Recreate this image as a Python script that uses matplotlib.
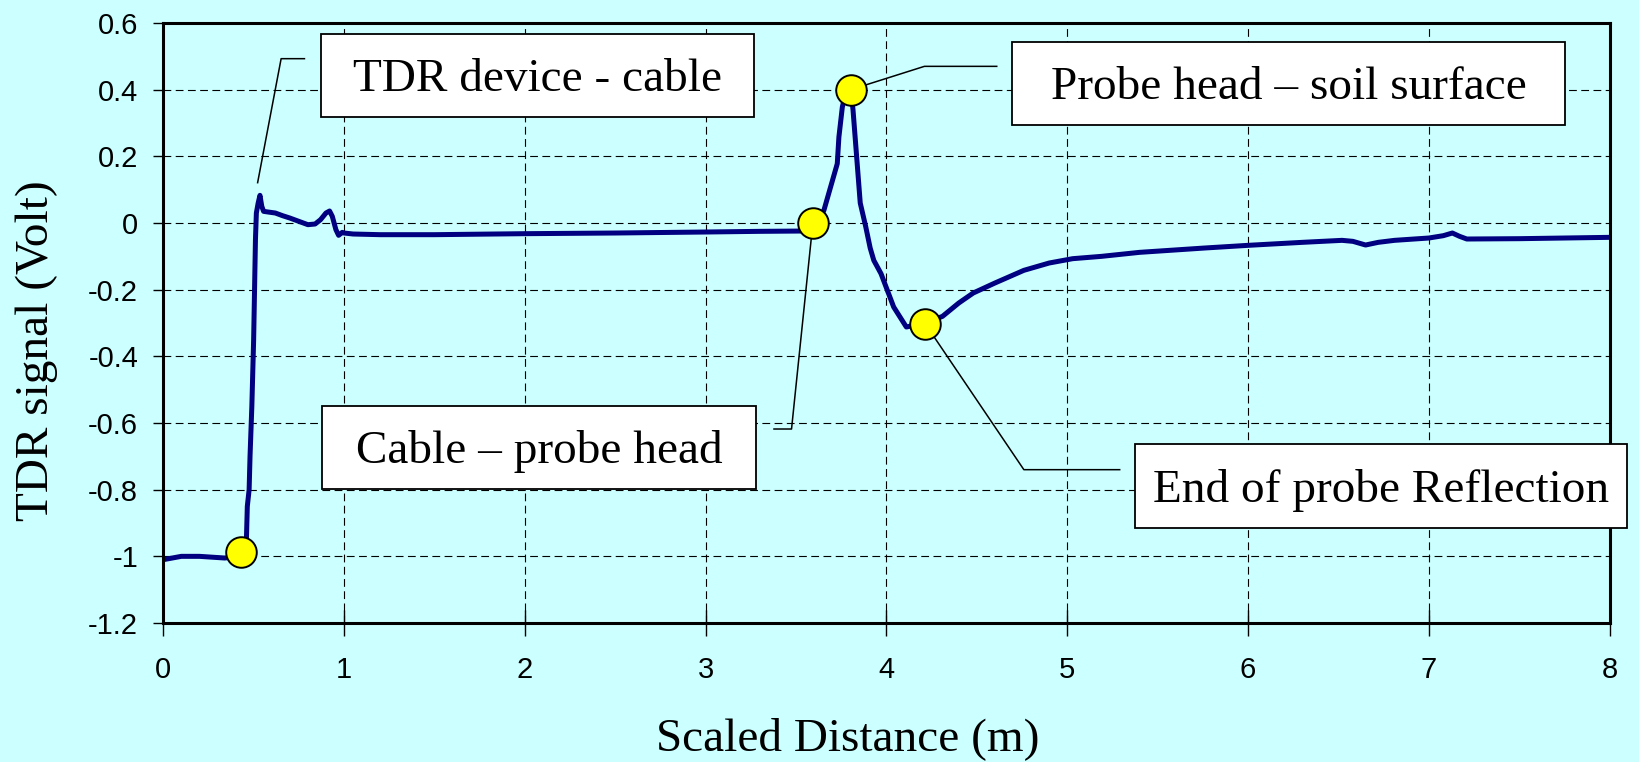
import matplotlib
matplotlib.use('Agg')
import matplotlib.pyplot as plt
from matplotlib.patches import Rectangle

# TDR waveform (scaled distance in m, signal in Volt)
distance = [0.00, 0.10, 0.20, 0.34, 0.42, 0.45, 0.46, 0.465, 0.475, 0.48, 0.49,
            0.50, 0.505, 0.51, 0.515, 0.525, 0.535, 0.545, 0.555, 0.58, 0.62,
            0.66, 0.70, 0.75, 0.80, 0.84, 0.87, 0.90, 0.92, 0.935, 0.955, 0.97,
            0.99, 1.00, 1.05, 1.20, 1.50, 2.00, 2.50, 3.00, 3.30, 3.55, 3.60,
            3.654, 3.691, 3.728, 3.737, 3.756, 3.77, 3.79, 3.805, 3.815, 3.835,
            3.855, 3.885, 3.91, 3.93, 3.97, 4.04, 4.11, 4.17, 4.24, 4.31, 4.40,
            4.48, 4.60, 4.76, 4.90, 5.03, 5.19, 5.40, 5.76, 6.00, 6.30, 6.52,
            6.58, 6.65, 6.72, 6.81, 7.00, 7.08, 7.13, 7.17, 7.21, 7.50, 8.00]
signal = [-1.010, -1.000, -1.000, -1.005, -1.000, -0.970, -0.950, -0.850, -0.800,
          -0.700, -0.550, -0.350, -0.200, -0.050, 0.030, 0.060, 0.083, 0.050,
          0.035, 0.033, 0.030, 0.022, 0.015, 0.005, -0.005, -0.003, 0.010, 0.030,
          0.036, 0.020, -0.020, -0.037, -0.028, -0.030, -0.033, -0.035, -0.035,
          -0.032, -0.030, -0.027, -0.025, -0.024, -0.010, 0.038, 0.108, 0.178,
          0.258, 0.348, 0.380, 0.400, 0.390, 0.340, 0.200, 0.060, -0.010, -0.075,
          -0.112, -0.152, -0.252, -0.312, -0.305, -0.295, -0.280, -0.240, -0.210,
          -0.180, -0.142, -0.120, -0.107, -0.100, -0.088, -0.075, -0.067, -0.058,
          -0.052, -0.055, -0.066, -0.058, -0.052, -0.045, -0.038, -0.030, -0.040,
          -0.048, -0.047, -0.043]

# reflection points marked on the trace
point_x = [0.43, 3.593, 3.803, 4.214]
point_y = [-0.987, 0.0, 0.400, -0.302]

x_ticks = [0, 1, 2, 3, 4, 5, 6, 7, 8]
y_ticks = [0.6, 0.4, 0.2, 0, -0.2, -0.4, -0.6, -0.8, -1, -1.2]
y_tick_labels = ['0.6', '0.4', '0.2', '0', '-0.2', '-0.4', '-0.6', '-0.8', '-1', '-1.2']

labels = ['TDR device - cable', 'Probe head \u2013 soil surface',
          'Cable \u2013 probe head', 'End of probe Reflection']

# callout layout: leader line path and box extents (x0, x1, y0, y1)
leaders = [[(0.522, 0.121), (0.652, 0.493), (0.781, 0.493)],
           [(3.82, 0.403), (4.21, 0.470), (4.61, 0.470)],
           [(3.593, 0.0), (3.475, -0.618), (3.378, -0.618)],
           [(4.214, -0.302), (4.76, -0.74), (5.29, -0.74)]]
boxes = [(0.871, 3.27, 0.317, 0.566),
         (4.695, 7.755, 0.295, 0.542),
         (0.877, 3.279, -0.797, -0.550),
         (5.376, 8.098, -0.916, -0.664)]

bg = '#CCFFFF'
serif = ['Liberation Serif', 'DejaVu Serif']
sans = ['Liberation Sans', 'DejaVu Sans']

fig = plt.figure(figsize=(16.39, 7.62), dpi=100, facecolor=bg)
ax = fig.add_axes([0.0996, 0.1824, 0.8825, 0.7874])
ax.set_facecolor(bg)

ax.plot(distance, signal, color='#000080', lw=3.6, zorder=3,
        solid_joinstyle='round', solid_capstyle='round')

for path in leaders:
    xs = [p[0] for p in path]
    ys = [p[1] for p in path]
    ax.plot(xs, ys, color='black', lw=1.1, zorder=4, clip_on=False)

ax.plot(point_x, point_y, 'o', ms=22, mfc='#FFFF00', mec='black', mew=1.4,
        zorder=5, clip_on=False)

for text, (x0, x1, y0, y1) in zip(labels, boxes):
    ax.add_patch(Rectangle((x0, y0), x1 - x0, y1 - y0, facecolor='white',
                           edgecolor='black', lw=1.3, zorder=6, clip_on=False))
    ax.annotate(text, xy=((x0 + x1) / 2, (y0 + y1) / 2), xytext=(0, -11),
                textcoords='offset points', ha='center', va='baseline',
                fontsize=34, family=serif, zorder=7, annotation_clip=False)

ax.set_xlim(0, 8)
ax.set_ylim(-1.2, 0.6)
ax.set_xticks(x_ticks)
ax.set_xticklabels([str(v) for v in x_ticks])
ax.set_yticks(y_ticks)
ax.set_yticklabels(y_tick_labels)
for lbl in ax.get_xticklabels() + ax.get_yticklabels():
    lbl.set_family(sans)
    lbl.set_fontsize(21)

ax.tick_params(axis='y', direction='out', length=7, width=1, pad=11)
ax.tick_params(axis='x', direction='inout', length=19, width=1, pad=14)

ax.grid(True, color='black', linestyle=(0, (7, 4)), linewidth=0.8)
ax.set_axisbelow(True)
for sp in ax.spines.values():
    sp.set_linewidth(2.2)
    sp.set_zorder(4)

ax.set_xlabel('Scaled Distance (m)', fontsize=34, family=serif)
ax.set_ylabel('TDR signal (Volt)', fontsize=34, family=serif)
ax.xaxis.set_label_coords(0.473, -0.193)
ax.xaxis.label.set_verticalalignment('center')
ax.yaxis.set_label_coords(-0.0875, 0.454)
ax.yaxis.label.set_verticalalignment('center')

fig.savefig('out.png', dpi=100, facecolor=bg)
